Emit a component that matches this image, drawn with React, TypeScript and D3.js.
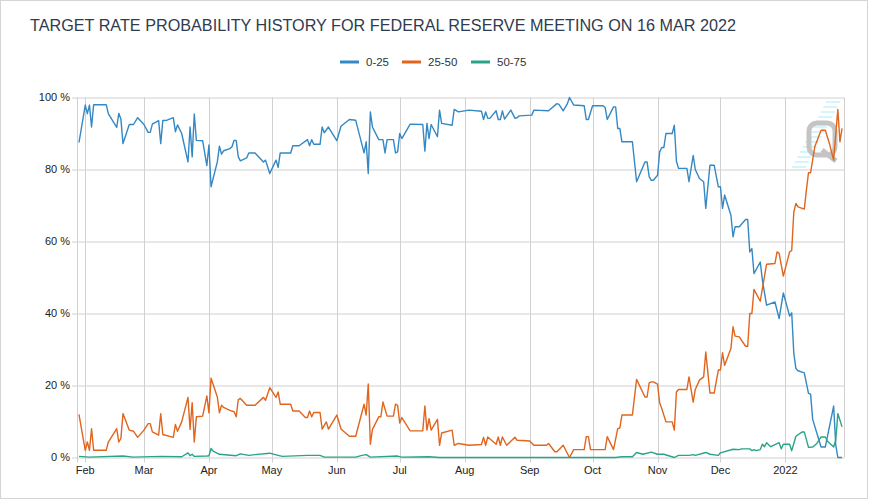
import React from "react";
import * as d3 from "d3";

const title = "TARGET RATE PROBABILITY HISTORY FOR FEDERAL RESERVE MEETING ON 16 MAR 2022";
const seriesNames = ["0-25", "25-50", "50-75"];
const seriesColors = ["#3488c3", "#e0651d", "#29a486"];
const yTicks = [0, 20, 40, 60, 80, 100];

const s0to25: [string, number][] = [
  ["2021-01-29",87.5],["2021-02-01",97.9],["2021-02-02",95.5],["2021-02-03",97.9],["2021-02-04",91.8],["2021-02-05",98],
  ["2021-02-11",98],["2021-02-12",95.5],["2021-02-16",91.7],["2021-02-17",95.6],["2021-02-18",94],["2021-02-19",87.2],
  ["2021-02-22",92.5],["2021-02-24",92.5],["2021-02-26",94.4],["2021-03-01",92.5],["2021-03-03",90.3],["2021-03-04",90.3],
  ["2021-03-05",92.6],["2021-03-08",93.6],["2021-03-09",87.2],["2021-03-10",93.6],["2021-03-12",93.7],["2021-03-15",94.4],
  ["2021-03-16",90.5],["2021-03-17",92.4],["2021-03-19",90],["2021-03-22",82.1],["2021-03-23",91.8],["2021-03-24",83.5],
  ["2021-03-25",95.4],["2021-03-26",88.1],["2021-03-29",88],["2021-03-31",81.1],["2021-04-01",86.8],["2021-04-02",75.2],
  ["2021-04-05",82.1],["2021-04-06",86.5],["2021-04-07",84.3],["2021-04-08",85.2],["2021-04-11",85.8],["2021-04-12",86.3],
  ["2021-04-13",88.1],["2021-04-14",88.1],["2021-04-15",83.5],["2021-04-16",82.4],["2021-04-19",83.2],["2021-04-20",84.6],
  ["2021-04-23",84.6],["2021-04-27",82.1],["2021-04-28",82.6],["2021-04-30",78.9],["2021-05-03",82.6],["2021-05-04",80.6],
  ["2021-05-05",84.6],["2021-05-10",84.6],["2021-05-11",86.6],["2021-05-14",86.6],["2021-05-18",88.3],["2021-05-19",86.6],
  ["2021-05-20",88.3],["2021-05-21",87],["2021-05-24",87],["2021-05-25",91.8],["2021-05-26",90.2],["2021-05-28",91.8],
  ["2021-06-01",88],["2021-06-03",92],["2021-06-07",93.9],["2021-06-10",93.7],["2021-06-14",84.6],["2021-06-15",87.7],
  ["2021-06-16",78.9],["2021-06-17",96],["2021-06-18",91.8],["2021-06-21",88.3],["2021-06-23",88.3],["2021-06-24",84.6],
  ["2021-06-25",88.3],["2021-06-28",88.3],["2021-06-29",84.6],["2021-06-30",84.9],["2021-07-01",90],["2021-07-02",88.6],
  ["2021-07-06",92.6],["2021-07-12",92.5],["2021-07-13",85.1],["2021-07-14",92.8],["2021-07-15",88.6],["2021-07-16",92.5],
  ["2021-07-19",89.1],["2021-07-20",96.5],["2021-07-21",92.8],["2021-07-26",92.3],["2021-07-27",96.7],["2021-07-29",96],
  ["2021-08-03",96.5],["2021-08-09",96.2],["2021-08-10",93.9],["2021-08-11",96],["2021-08-12",94.2],["2021-08-13",94.2],
  ["2021-08-16",96.3],["2021-08-17",93.9],["2021-08-18",93.9],["2021-08-19",96.3],["2021-08-20",94],["2021-08-23",96.5],
  ["2021-08-25",94.2],["2021-08-26",94.4],["2021-08-27",94.9],["2021-09-02",95.1],["2021-09-03",96.5],["2021-09-10",96.3],
  ["2021-09-14",98.3],["2021-09-15",98.1],["2021-09-17",96.3],["2021-09-19",98.3],["2021-09-20",100],["2021-09-22",97.9],
  ["2021-09-27",97.7],["2021-09-28",93.9],["2021-09-29",93.9],["2021-10-01",97.7],["2021-10-06",97.7],["2021-10-07",97.2],
  ["2021-10-08",93.9],["2021-10-11",97.4],["2021-10-12",97.4],["2021-10-13",91.4],["2021-10-14",91.4],["2021-10-15",87.7],
  ["2021-10-20",87.7],["2021-10-22",76.6],["2021-10-26",82.1],["2021-10-27",82.1],["2021-10-28",78],["2021-10-29",77],
  ["2021-10-30",77],["2021-11-01",78.4],["2021-11-02",84.9],["2021-11-03",86.1],["2021-11-04",86.1],["2021-11-05",90],
  ["2021-11-08",90],["2021-11-09",92.3],["2021-11-10",82.3],["2021-11-11",80.3],["2021-11-15",80.3],["2021-11-16",76.6],
  ["2021-11-18",83.9],["2021-11-19",80],["2021-11-21",77.5],["2021-11-23",76.6],["2021-11-24",69.2],["2021-11-26",81.2],
  ["2021-11-28",81.2],["2021-11-30",75.2],["2021-12-01",75.2],["2021-12-02",69.2],["2021-12-03",72.9],["2021-12-06",67.3],
  ["2021-12-07",61.3],["2021-12-08",64.1],["2021-12-10",64.1],["2021-12-13",66.1],["2021-12-14",66.1],["2021-12-15",57.1],
  ["2021-12-16",58],["2021-12-17",51.1],["2021-12-20",54.3],["2021-12-21",49.3],["2021-12-23",42.3],["2021-12-27",43.2],
  ["2021-12-29",38.6],["2021-12-31",45.7],["2022-01-03",39.3],["2022-01-04",40.2],["2022-01-05",28.9],["2022-01-06",24.7],
  ["2022-01-07",24.1],["2022-01-10",23.5],["2022-01-12",17.8],["2022-01-13",17.6],["2022-01-14",10.6],["2022-01-18",2.9],
  ["2022-01-20",2.9],["2022-01-24",14.3],["2022-01-25",3.5],["2022-01-26",0],["2022-01-28",0],
];

const s25to50: [string, number][] = [
  ["2021-01-29",12],["2021-02-01",2],["2021-02-02",4.3],["2021-02-03",2],["2021-02-04",8],["2021-02-05",2],
  ["2021-02-11",2],["2021-02-12",4.3],["2021-02-16",8],["2021-02-17",4.3],["2021-02-18",5.3],["2021-02-19",12.2],
  ["2021-02-22",7.6],["2021-02-24",7.3],["2021-02-26",5.6],["2021-03-01",7.6],["2021-03-03",9.4],["2021-03-04",9.4],
  ["2021-03-05",7.1],["2021-03-08",6.2],["2021-03-09",12.2],["2021-03-10",6.4],["2021-03-15",5.6],["2021-03-16",9.2],
  ["2021-03-17",7.3],["2021-03-19",9.9],["2021-03-22",16.7],["2021-03-23",7.8],["2021-03-24",15.2],["2021-03-25",4.3],
  ["2021-03-26",11.3],["2021-03-29",11.5],["2021-03-31",17.1],["2021-04-01",12.4],["2021-04-02",22],["2021-04-05",16.8],
  ["2021-04-06",12.4],["2021-04-07",14.5],["2021-04-08",13.9],["2021-04-11",13.1],["2021-04-13",12.7],["2021-04-14",11.3],
  ["2021-04-15",16.1],["2021-04-16",16.4],["2021-04-19",14.5],["2021-04-23",14.5],["2021-04-27",16.7],["2021-04-28",15.9],
  ["2021-04-30",19.4],["2021-05-03",16.7],["2021-05-04",18.2],["2021-05-05",14.8],["2021-05-10",14.8],["2021-05-11",12.9],
  ["2021-05-14",12.9],["2021-05-17",11.1],["2021-05-18",11.1],["2021-05-19",12.9],["2021-05-20",11.3],["2021-05-21",12.5],
  ["2021-05-24",12.5],["2021-05-25",7.9],["2021-05-27",9.9],["2021-05-28",7.9],["2021-06-01",11.8],["2021-06-03",7.9],
  ["2021-06-07",5.9],["2021-06-10",5.9],["2021-06-14",14.8],["2021-06-15",11.8],["2021-06-16",20.4],["2021-06-17",3.7],
  ["2021-06-18",7.8],["2021-06-21",11.3],["2021-06-22",11.3],["2021-06-23",15.4],["2021-06-25",11.5],["2021-06-28",11.5],
  ["2021-06-29",14.8],["2021-06-30",14.5],["2021-07-01",9.6],["2021-07-02",11.1],["2021-07-06",7.4],["2021-07-12",7.4],
  ["2021-07-13",14.3],["2021-07-14",7.6],["2021-07-15",10.8],["2021-07-16",7.6],["2021-07-19",10.6],["2021-07-20",3.4],
  ["2021-07-21",6.8],["2021-07-26",7.6],["2021-07-27",3.4],["2021-07-29",3.9],["2021-08-03",3.4],["2021-08-09",3.6],
  ["2021-08-10",5.6],["2021-08-11",3.4],["2021-08-12",5.7],["2021-08-16",3.7],["2021-08-17",5.7],["2021-08-18",3.4],
  ["2021-08-19",5.7],["2021-08-21",3.4],["2021-08-25",5.6],["2021-08-26",4.8],["2021-09-01",4.6],["2021-09-03",3.4],
  ["2021-09-09",3.4],["2021-09-10",3.9],["2021-09-13",1.6],["2021-09-14",1.6],["2021-09-17",3.4],["2021-09-20",0],
  ["2021-09-22",2.2],["2021-09-27",2.2],["2021-09-28",5.8],["2021-09-29",5.8],["2021-09-30",2.2],["2021-10-07",2.2],
  ["2021-10-08",5.8],["2021-10-11",2.2],["2021-10-13",8],["2021-10-14",8.2],["2021-10-15",11.8],["2021-10-20",11.8],
  ["2021-10-22",21.7],["2021-10-26",16.8],["2021-10-27",16.8],["2021-10-28",20.7],["2021-10-29",21],["2021-10-30",21],
  ["2021-11-01",20.4],["2021-11-02",15.2],["2021-11-03",13.6],["2021-11-05",9.9],["2021-11-08",9.9],["2021-11-09",7.6],
  ["2021-11-10",18.2],["2021-11-11",18.9],["2021-11-15",18.9],["2021-11-16",22.4],["2021-11-18",15.4],["2021-11-19",18.9],
  ["2021-11-21",21.5],["2021-11-23",22.4],["2021-11-24",29.3],["2021-11-26",17.9],["2021-11-28",17.9],["2021-11-30",24.3],
  ["2021-12-01",24.3],["2021-12-02",29.1],["2021-12-03",25.6],["2021-12-06",30.3],["2021-12-07",36.3],["2021-12-08",33.7],
  ["2021-12-10",33.5],["2021-12-13",30.9],["2021-12-14",30.9],["2021-12-15",40],["2021-12-16",40],["2021-12-17",46.7],
  ["2021-12-20",43.4],["2021-12-21",46.9],["2021-12-23",53.7],["2021-12-27",53.9],["2021-12-28",57.1],["2021-12-29",56.7],
  ["2021-12-31",50.4],["2022-01-03",57.1],["2022-01-04",57.5],["2022-01-05",68.2],["2022-01-06",70.6],["2022-01-07",69.6],
  ["2022-01-10",69],["2022-01-11",74.3],["2022-01-12",79.1],["2022-01-13",79.1],["2022-01-15",86.3],["2022-01-18",90.9],
  ["2022-01-20",90.9],["2022-01-22",87.2],["2022-01-24",82.6],["2022-01-26",96.7],["2022-01-27",87.7],["2022-01-28",91.4],
];

const s50to75: [string, number][] = [
  ["2021-01-29",0.3],["2021-02-03",0.1],["2021-02-19",0.4],["2021-02-24",0.1],["2021-03-09",0.3],["2021-03-19",0.2],
  ["2021-03-22",1.3],["2021-03-23",0.5],["2021-03-24",0.9],["2021-03-25",0.3],["2021-03-31",0.4],["2021-04-01",0.5],
  ["2021-04-02",2.5],["2021-04-03",1.8],["2021-04-06",0.9],["2021-04-14",0.5],["2021-04-16",1.0],["2021-04-20",0.6],
  ["2021-04-23",0.8],["2021-04-30",1.2],["2021-05-04",0.6],["2021-05-06",0.3],["2021-05-18",0.6],["2021-05-24",0.6],
  ["2021-05-26",0.1],["2021-06-10",0.1],["2021-06-13",0.6],["2021-06-15",0.8],["2021-06-17",0.1],["2021-06-30",0.4],
  ["2021-07-02",0.1],["2021-07-15",0.2],["2021-07-20",0],["2021-10-12",0],["2021-10-15",0.2],["2021-10-20",0.2],
  ["2021-10-22",1.4],["2021-10-25",0.9],["2021-10-29",1.5],["2021-11-01",0.9],["2021-11-04",0.9],["2021-11-09",0],
  ["2021-11-11",0.6],["2021-11-16",0.6],["2021-11-18",0.8],["2021-11-19",0.6],["2021-11-24",1.4],["2021-11-26",0.9],
  ["2021-11-30",0.6],["2021-12-01",1.3],["2021-12-07",2.3],["2021-12-10",2.2],["2021-12-11",2.4],["2021-12-15",2.4],
  ["2021-12-16",1.9],["2021-12-17",2.2],["2021-12-18",1.9],["2021-12-20",2.2],["2021-12-21",3.7],["2021-12-22",3],
  ["2021-12-23",4.1],["2021-12-25",3],["2021-12-29",4.1],["2021-12-30",2.4],["2021-12-31",3.7],["2022-01-03",3.7],
  ["2022-01-04",1.9],["2022-01-06",5.9],["2022-01-09",7.1],["2022-01-10",7.1],["2022-01-12",2.8],["2022-01-14",2.9],
  ["2022-01-16",3.9],["2022-01-18",5.7],["2022-01-20",5.7],["2022-01-21",4.6],["2022-01-24",2.9],["2022-01-25",4.8],
  ["2022-01-26",12.2],["2022-01-28",8.5],
];

const allSeries = [s0to25, s25to50, s50to75];

const W = 871;
const H = 500;
const left = 76.7;
const right = 844.3;
const top = 97.5;
const bottom = 457.5;

export default function App() {
  const parse = d3.utcParse("%Y-%m-%d");
  const x = d3
    .scaleUtc()
    .domain([new Date(Date.UTC(2021, 0, 27, 22)), new Date(Date.UTC(2022, 0, 29, 2))])
    .range([left, right]);
  const y = d3.scaleLinear().domain([0, 100]).range([bottom, top]);
  const months = d3.utcMonth.range(new Date(Date.UTC(2021, 1, 1)), new Date(Date.UTC(2022, 0, 2)));
  const fmtMonth = d3.utcFormat("%b");
  const fmtYear = d3.utcFormat("%Y");
  const tickLabel = (d: Date) => (d.getUTCMonth() === 0 ? fmtYear(d) : fmtMonth(d));
  const line = d3
    .line<[string, number]>()
    .x((d) => x(parse(d[0]) as Date))
    .y((d) => y(d[1]));
  const snap = (v: number) => Math.round(v) + 0.5;
  const font = "'Liberation Sans', Arial, sans-serif";
  const legendX = [340, 402, 471];

  const stripes = d3.range(14);

  return (
    <svg
      width={W}
      height={H}
      style={{ position: "absolute", left: 0, top: 0, background: "#fff" }}
      fontFamily={font}
    >
      <rect x={0.5} y={0.5} width={867} height={498} fill="#fff" stroke="#d4d4d4" />
      <text x={30} y={31} fontSize={16} fill="#2f3b4f" textLength={706} lengthAdjust="spacingAndGlyphs">
        {title}
      </text>
      {seriesNames.map((n, i) => (
        <g key={n}>
          <line x1={legendX[i]} x2={legendX[i] + 19} y1={62} y2={62} stroke={seriesColors[i]} strokeWidth={3} />
          <text x={legendX[i] + 26} y={66} fontSize={11.5} fill="#333">
            {n}
          </text>
        </g>
      ))}
      {/* watermark */}
      <g>
        {stripes.map((i) => {
          const yy = 102 + i * 5;
          const x1 = 826 - i * 2.6;
          return <line key={i} x1={x1} x2={x1 + 14} y1={yy} y2={yy} stroke="#c9f1fa" strokeWidth={1.5} />;
        })}
        <rect x={809} y={123} width={26} height={32} rx={8} fill="none" stroke="#c4c4c4" strokeWidth={5} />
        <line x1={822} y1={150} x2={836} y2={161} stroke="#c4c4c4" strokeWidth={5} />
      </g>
      {/* grid */}
      {yTicks.map((t) => (
        <g key={t}>
          <line x1={72} x2={right} y1={snap(y(t)) - 0.5} y2={snap(y(t)) - 0.5} stroke="#d0d0d0" />
          <text x={70} y={y(t)} dy="0.35em" fontSize={11} textAnchor="end" fill="#222">
            {`${t} %`}
          </text>
        </g>
      ))}
      {months.map((m) => (
        <g key={m.toISOString()}>
          <line x1={snap(x(m))} x2={snap(x(m))} y1={top} y2={bottom + 5} stroke="#d0d0d0" />
          <text x={x(m)} y={474} fontSize={11} textAnchor="middle" fill="#222">
            {tickLabel(m)}
          </text>
        </g>
      ))}
      <line x1={snap(left)} x2={snap(left)} y1={top} y2={bottom + 5} stroke="#d0d0d0" />
      <line x1={snap(right)} x2={snap(right)} y1={top} y2={bottom} stroke="#d0d0d0" />
      {allSeries.map((s, i) => (
        <path key={i} d={line(s) || ""} fill="none" stroke={seriesColors[i]} strokeWidth={1.4} strokeLinejoin="round" />
      ))}
    </svg>
  );
}
